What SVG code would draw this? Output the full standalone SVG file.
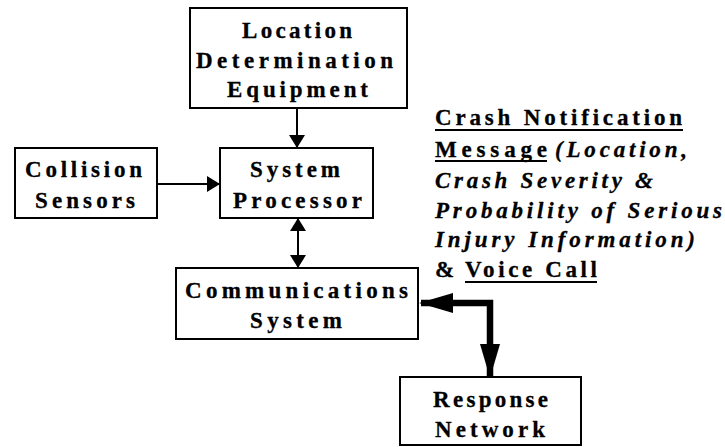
<svg xmlns="http://www.w3.org/2000/svg" width="725" height="447" viewBox="0 0 725 447">
<style>
.box{fill:#fff;stroke:#000;stroke-width:2}
.t{font-family:'Liberation Serif','Times New Roman',serif;font-weight:700;font-size:23px;fill:#000;stroke:#000;stroke-width:0.3}
.i{font-style:italic}
.thin{fill:none;stroke:#000;stroke-width:2}
.thick{fill:none;stroke:#000;stroke-width:6.5}
.ul{stroke:#000;stroke-width:2}
</style>
<defs>
<marker id="ah" markerUnits="userSpaceOnUse" markerWidth="14" markerHeight="16" viewBox="0 0 14 16" refX="12" refY="8" orient="auto-start-reverse">
<path d="M0,0 L13,8 L0,16 Z" fill="#000"/>
</marker>
<marker id="ahb" markerUnits="userSpaceOnUse" markerWidth="34" markerHeight="22" viewBox="0 0 34 22" refX="32" refY="11" orient="auto-start-reverse">
<path d="M0,1 L34,11 L0,21 Z" fill="#000"/>
</marker>
</defs>

<g id="connectors">
<path class="thin" d="M297,108 L297,147" marker-end="url(#ah)"/>
<path class="thin" d="M157,184 L219,184" marker-end="url(#ah)"/>
<path class="thin" d="M298,219 L298,267" marker-start="url(#ah)" marker-end="url(#ah)"/>
<path class="thick" d="M421,303 L490,303 L490,376" marker-start="url(#ahb)" marker-end="url(#ahb)"/>
</g>

<g id="location">
<rect class="box" x="190" y="8" width="217" height="100"/>
<text class="t" x="242" y="38" textLength="110" lengthAdjust="spacing">Location</text>
<text class="t" x="196" y="68" textLength="197" lengthAdjust="spacing">Determination</text>
<text class="t" x="227" y="97" textLength="141" lengthAdjust="spacing">Equipment</text>
</g>

<g id="collision">
<rect class="box" x="15" y="148" width="142" height="70"/>
<text class="t" x="25" y="177" textLength="117" lengthAdjust="spacing">Collision</text>
<text class="t" x="35" y="208" textLength="100" lengthAdjust="spacing">Sensors</text>
</g>

<g id="processor">
<rect class="box" x="220" y="148" width="153" height="70"/>
<text class="t" x="250" y="177" textLength="90" lengthAdjust="spacing">System</text>
<text class="t" x="233" y="208" textLength="129" lengthAdjust="spacing">Processor</text>
</g>

<g id="communications">
<rect class="box" x="176" y="268" width="242" height="71"/>
<text class="t" x="185" y="298" textLength="223" lengthAdjust="spacing">Communications</text>
<text class="t" x="250" y="328" textLength="92" lengthAdjust="spacing">System</text>
</g>

<g id="response">
<rect class="box" x="400" y="377" width="181" height="68"/>
<text class="t" x="433" y="407" textLength="115" lengthAdjust="spacing">Response</text>
<text class="t" x="435" y="437" textLength="110" lengthAdjust="spacing">Network</text>
</g>

<g id="message-label">
<text class="t" x="435" y="125" textLength="247" lengthAdjust="spacing">Crash Notification</text>
<line class="ul" x1="435" y1="130" x2="683" y2="130"/>
<text class="t" x="435" y="157" textLength="112" lengthAdjust="spacing">Message</text>
<line class="ul" x1="435" y1="161" x2="547" y2="161"/>
<text class="t i" x="555" y="157" textLength="132" lengthAdjust="spacing">(Location,</text>
<text class="t i" x="435" y="188" textLength="218" lengthAdjust="spacing">Crash Severity &amp;</text>
<text class="t i" x="435" y="218" textLength="287" lengthAdjust="spacing">Probability of Serious</text>
<text class="t i" x="435" y="247" textLength="260" lengthAdjust="spacing">Injury Information)</text>
<text class="t" x="435" y="277">&amp;</text>
<text class="t" x="465" y="277" textLength="132" lengthAdjust="spacing">Voice Call</text>
<line class="ul" x1="465" y1="282" x2="597" y2="282"/>
</g>
</svg>
